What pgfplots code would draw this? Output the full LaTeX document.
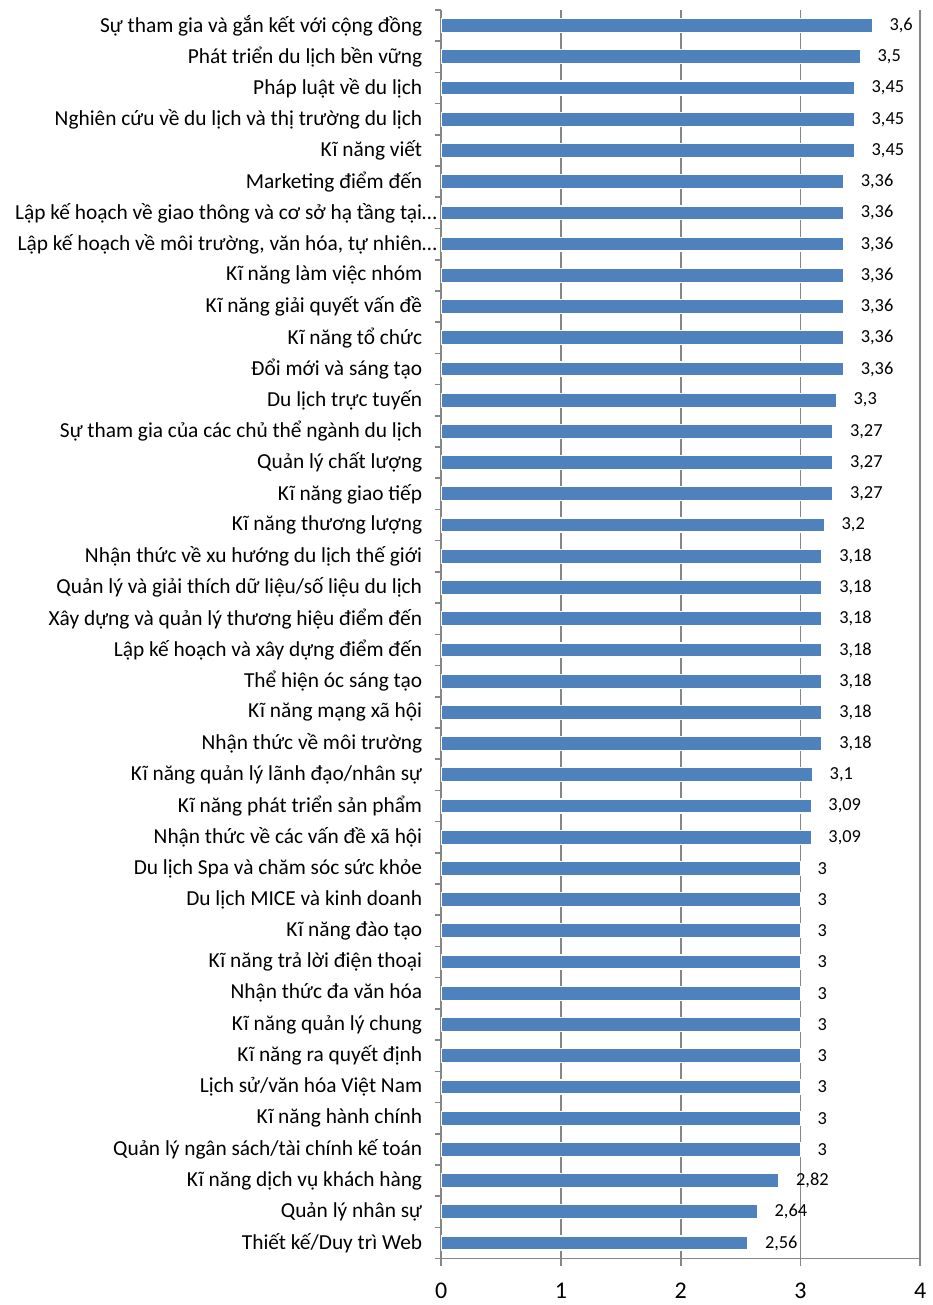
\documentclass[border=0pt]{standalone}
\usepackage{fontspec}
\setmainfont{Carlito}
\usepackage{pgfplots}
\pgfplotsset{compat=1.18}
\definecolor{barblue}{HTML}{4F81BD}
\definecolor{gridgray}{HTML}{868686}

\begin{document}
\begin{tikzpicture}
\begin{axis}[
  scale only axis, width=240pt, height=625.5pt,
  xbar, bar width=7pt,
  xmin=0, xmax=4, xtick={0,1,2,3,4},
  ymin=-0.5, ymax=39.5, y dir=reverse,
  ytick={0,...,39},
  minor ytick={-0.5,0.5,...,39.5},
  yticklabels={
    Sự tham gia và gắn kết với cộng đồng,
    Phát triển du lịch bền vững,
    Pháp luật về du lịch,
    Nghiên cứu về du lịch và thị trường du lịch,
    Kĩ năng viết,
    Marketing điểm đến,
    {Lập kế hoạch về giao thông và cơ sở hạ tầng tại\rlap{…}},
    {Lập kế hoạch về môi trường, văn hóa, tự nhiên\rlap{…}},
    Kĩ năng làm việc nhóm,
    Kĩ năng giải quyết vấn đề,
    Kĩ năng tổ chức,
    Đổi mới và sáng tạo,
    Du lịch trực tuyến,
    Sự tham gia của các chủ thể ngành du lịch,
    Quản lý chất lượng,
    Kĩ năng giao tiếp,
    Kĩ năng thương lượng,
    Nhận thức về xu hướng du lịch thế giới,
    Quản lý và giải thích dữ liệu/số liệu du lịch,
    Xây dựng và quản lý thương hiệu điểm đến,
    Lập kế hoạch và xây dựng điểm đến,
    Thể hiện óc sáng tạo,
    Kĩ năng mạng xã hội,
    Nhận thức về môi trường,
    Kĩ năng quản lý lãnh đạo/nhân sự,
    Kĩ năng phát triển sản phẩm,
    Nhận thức về các vấn đề xã hội,
    Du lịch Spa và chăm sóc sức khỏe,
    Du lịch MICE và kinh doanh,
    Kĩ năng đào tạo,
    Kĩ năng trả lời điện thoại,
    Nhận thức đa văn hóa,
    Kĩ năng quản lý chung,
    Kĩ năng ra quyết định,
    Lịch sử/văn hóa Việt Nam,
    Kĩ năng hành chính,
    Quản lý ngân sách/tài chính kế toán,
    Kĩ năng dịch vụ khách hàng,
    Quản lý nhân sự,
    Thiết kế/Duy trì Web},
  yticklabel style={font=\fontsize{10.7}{12}\selectfont, xshift=-2.5pt},
  xticklabel style={font=\fontsize{12}{14}\selectfont, yshift=-5pt},
  axis x line*=bottom, axis y line*=left,
  axis line style={gridgray, line width=0.8pt, -},
  xmajorgrids, grid style={gridgray, line width=0.8pt},
  tick align=outside,
  major tick length=3.5pt, minor tick length=3pt,
  every major y tick/.append style={draw=none},
  every minor y tick/.append style={gridgray, line width=0.8pt},
  every major x tick/.append style={gridgray, line width=0.8pt},
  /pgf/number format/.cd, use comma, assume math mode=true,
  /pgfplots/.cd,
  nodes near coords,
  nodes near coords style={font=\fontsize{9.2}{10}\selectfont, anchor=west, xshift=5pt, black},
]
\addplot[fill=barblue, draw=white, line width=0.6pt] coordinates {
(3.6,0) (3.5,1) (3.45,2) (3.45,3) (3.45,4) (3.36,5) (3.36,6) (3.36,7)
(3.36,8) (3.36,9) (3.36,10) (3.36,11) (3.3,12) (3.27,13) (3.27,14) (3.27,15)
(3.2,16) (3.18,17) (3.18,18) (3.18,19) (3.18,20) (3.18,21) (3.18,22) (3.18,23)
(3.1,24) (3.09,25) (3.09,26) (3,27) (3,28) (3,29) (3,30) (3,31)
(3,32) (3,33) (3,34) (3,35) (3,36) (2.82,37) (2.64,38) (2.56,39)
};
\end{axis}
\path (current axis.south west) ++(-221pt,-22pt) (current axis.north east) ++(5pt,5pt);
\end{tikzpicture}
\end{document}
